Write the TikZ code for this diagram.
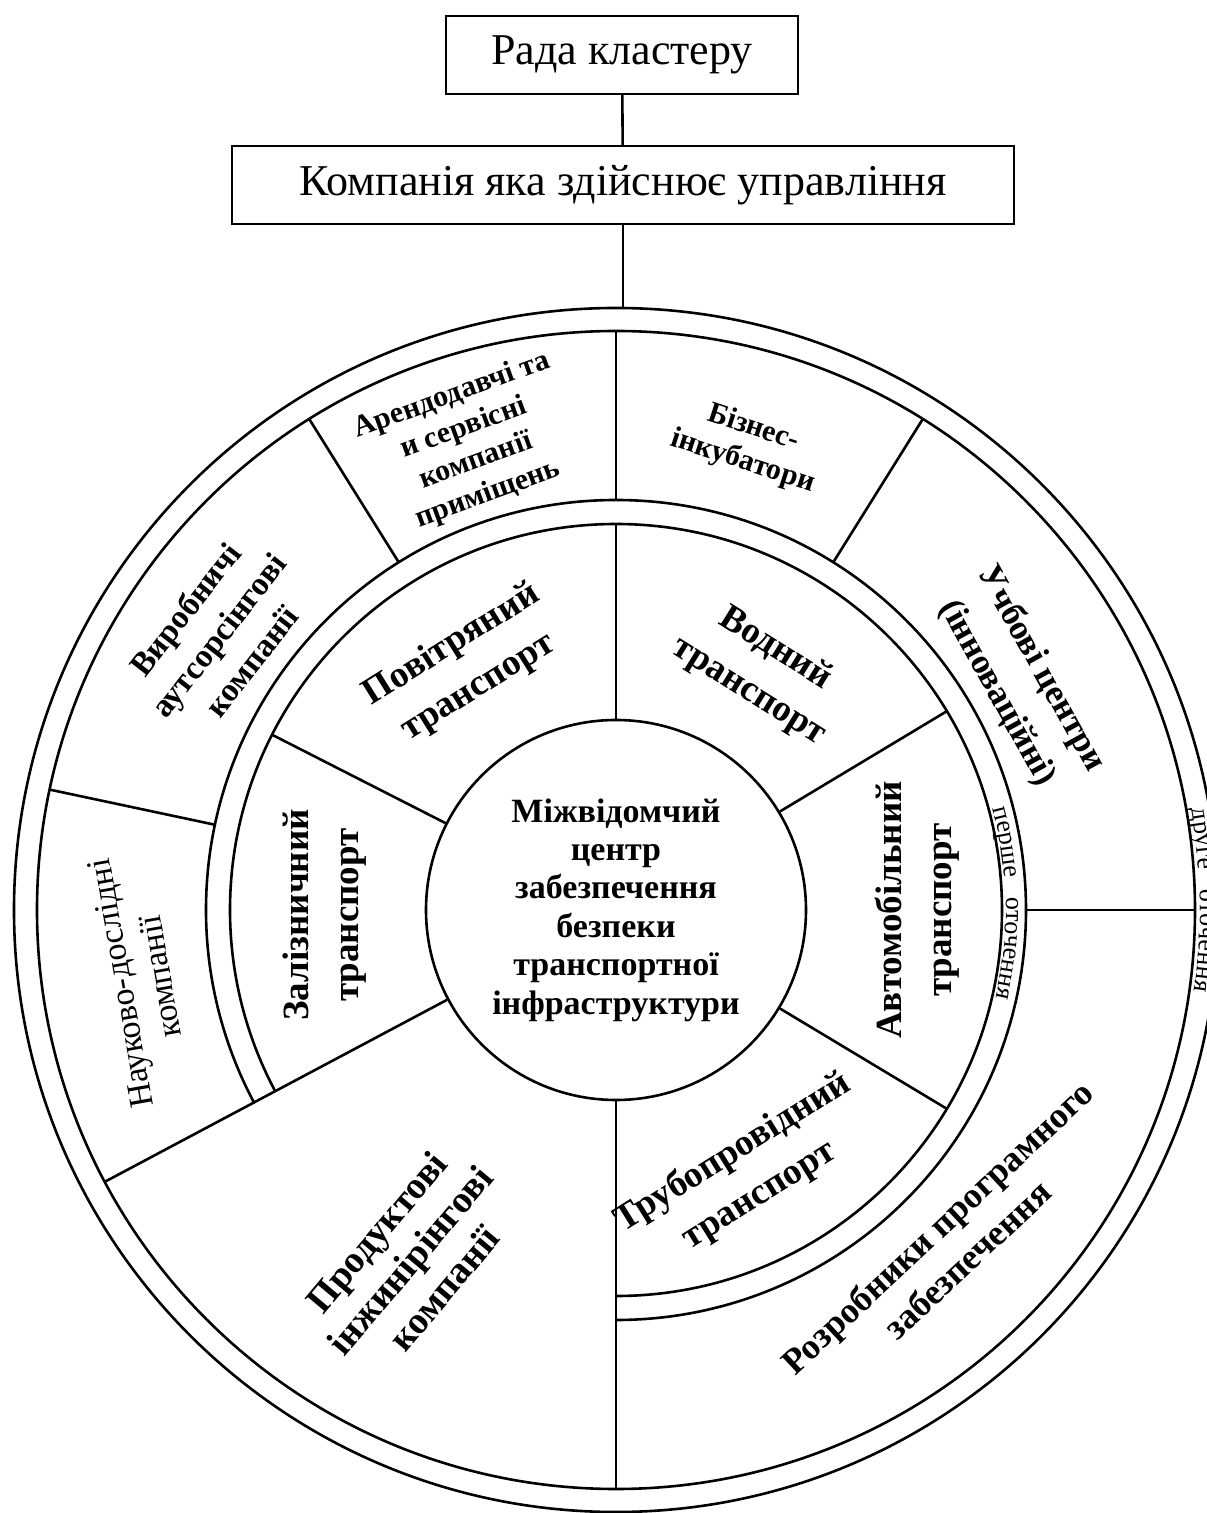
\documentclass[tikz,border=0pt]{standalone}
\usepackage{fontspec}
\setmainfont{Liberation Serif}
\usepackage{tikz}
\usetikzlibrary{decorations.text}

\begin{document}
\begin{tikzpicture}[x=0.5pt,y=0.5pt,line width=1.3pt]
      \tikzstyle{every node}=[align=center,inner sep=0pt]
      \tikzstyle{box}=[draw,line width=1pt,minimum width=176pt,minimum height=39pt,font=\fontsize{22}{26}\selectfont]
      \tikzstyle{sect}=[font=\fontsize{18.5}{25}\selectfont\bfseries]
      \tikzstyle{small}=[font=\fontsize{15}{17.5}\selectfont\bfseries]

      \path[fill=white] (-616,-603) rectangle (590,910);
      \useasboundingbox (-616,-603) rectangle (590,910);

      \node[box] (rada) at (6,855) {Рада кластеру};
      \node[box,minimum width=391pt] (upr) at (7,724.5) {Компанія яка здійснює управління};
      \coordinate (verh) at (90:602);

      \draw (rada) -- (upr);
      \draw (upr.south) -- (upr.south |- verh);

      \draw (0,0) circle (602);
      \draw (0,0) circle (579);
      \draw (270:410) arc[start angle=-90,end angle=208,radius=410];
      \draw (270:386) arc[start angle=-90,end angle=208,radius=386];

      \node[draw,circle,minimum size=190pt,font=\fontsize{17}{19.2}\selectfont\bfseries] (centr) at (0,0)
        {Міжвідомчий\\центр\\забезпечення\\безпеки\\транспортної\\інфраструктури};

      \draw (centr.90) -- (90:386);
      \draw (centr.31) -- (31:386);
      \draw (centr.329) -- (329:386);
      \draw (centr.153) -- (153:386);
      \draw (centr.270) -- (270:579);
      \draw (centr.208) -- (208:579);

      \draw (90:410) -- (90:579);
      \draw (58:410) -- (58:579);
      \draw (122:410) -- (122:579);
      \draw (168:410) -- (168:579);
      \draw (0:410) -- (0:579);

      \node[sect,rotate=32] (povitr) at (-151,244) {Повітряний\\транспорт};
      \node[sect,rotate=-32] (vodn) at (146,240) {Водний\\транспорт};
      \node[sect,rotate=90] (zaliz) at (-291,-5) {Залізничний\\транспорт};
      \node[sect,rotate=90] (avto) at (301,0) {Автомобільний\\транспорт};
      \node[sect,rotate=32] (trub) at (130,-264) {Трубопровідний\\транспорт};

      \node[small,rotate=-18] (biz) at (132,465) {Бізнес-\\інкубатори};
      \node[small,rotate=20] (orend) at (-146,465) {Арендодавчі та\\и сервісні\\компанії\\приміщень};
      \node[sect,font=\fontsize{16.5}{21}\selectfont\bfseries,rotate=52] (vyrob) at (-398,275) {Виробничі\\аутсорсінгові\\компанії};
      \node[font=\fontsize{17}{20}\selectfont,rotate=100] (nauk) at (-476,-70) {Науково-дослідні\\компанії};
      \node[sect,font=\fontsize{19}{22}\selectfont\bfseries,rotate=50] (prod) at (-206,-350) {Продуктові\\інжинірінгові\\компанії};
      \node[sect,font=\fontsize{18}{22}\selectfont\bfseries,rotate=43] (rozr) at (336,-333) {Розробники програмного\\забезпечення};
      \node[sect,font=\fontsize{17.5}{25}\selectfont\bfseries,rotate=-61] (uchb) at (403,229) {Учбові центри\\(інноваційні)};

      \path[decorate,decoration={text along path,text align=center,
        text={|\fontsize{13}{15}\selectfont|перше\ \ \ оточення}}]
        (21:390) arc[start angle=21,end angle=-19,radius=390];
      \path[decorate,decoration={text along path,text align=center,
        text={|\fontsize{13}{15}\selectfont|друге\ \ \ оточення}}]
        (14:584) arc[start angle=14,end angle=-12,radius=584];

    \end{tikzpicture}
\end{document}
